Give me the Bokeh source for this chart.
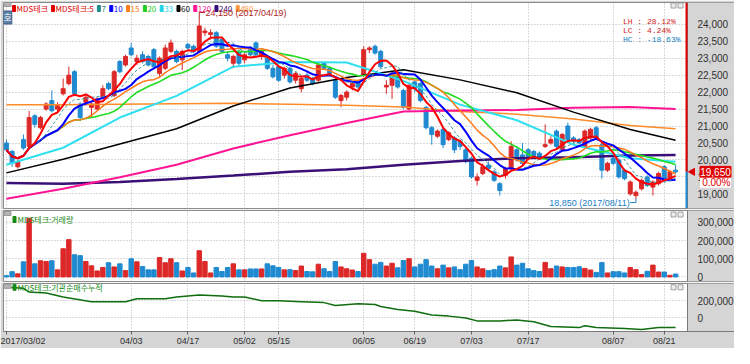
import pandas as pd
from bokeh.plotting import figure
from bokeh.layouts import column
from bokeh.models import FixedTicker, Label, Range1d, ColumnDataSource
from bokeh.core.properties import value
from bokeh.embed import file_html
from bokeh.resources import INLINE

# ------------------------------------------------------------------ data
holidays = ["2017-05-01", "2017-05-03", "2017-05-05", "2017-05-09", "2017-06-06", "2017-08-15"]
days = [d for d in pd.bdate_range("2017-03-02", "2017-08-23") if d.strftime("%Y-%m-%d") not in holidays]
day_str = [d.strftime("%Y-%m-%d") for d in days]

tick_dates = ["2017-03-02", "2017-04-03", "2017-04-17", "2017-05-02", "2017-05-15", "2017-06-05",
              "2017-06-19", "2017-07-03", "2017-07-17", "2017-08-07", "2017-08-21"]
tick_labels = ["2017/03/02", "04/03", "04/17", "05/02", "05/15", "06/05",
               "06/19", "07/03", "07/17", "08/07", "08/21"]

price_ticks = [19000, 19500, 20000, 20500, 21000, 21500, 22000, 22500, 23000, 23500, 24000]
volume_ticks = [0, 100000, 200000, 300000]
inst_ticks = [0, 200000]

opens = [20500, 20250, 19800, 20600, 20400, 21300, 20950, 21500, 21750, 21500,
         21950, 22250, 22600, 21650, 21700, 21550, 21500, 21850, 22250, 21900,
         22900, 22800, 23300, 22900, 23100, 23050, 23250, 22550, 22700, 23200,
         23200, 22950, 23400, 23350, 23200, 23750, 23700, 23750, 23550, 23100,
         22850, 23200, 22950, 23250, 23450, 23050, 23000, 22700, 22750, 22500,
         22700, 22350, 22100, 22500, 22400, 22350, 22850, 22700, 22350, 21750,
         21850, 22150, 22300, 22500, 23250, 23350, 23200, 22150, 22200, 22500,
         22050, 21500, 22300, 22250, 21550, 20950, 20700, 20900, 20600, 20650,
         20550, 20300, 20050, 19400, 19600, 19850, 19650, 19300, 19550, 19750,
         20300, 20150, 20300, 20250, 20200, 20400, 20500, 20850, 20300, 21000,
         20650, 20600, 20400, 20650, 20950, 20450, 19700, 20050, 20000, 19700,
         19000, 18950, 19150, 19500, 19200, 19300, 19800, 19450, 19700]
highs = [20600, 20300, 20000, 20750, 21450, 21350, 21300, 21700, 22050, 21700,
         22400, 22750, 22650, 21700, 21900, 21700, 21850, 22200, 22300, 22650,
         22950, 23100, 23450, 23100, 23200, 23100, 23300, 23050, 23400, 23550,
         23250, 23250, 23450, 23400, 24150, 23900, 23850, 23800, 23600, 23200,
         23100, 23250, 23150, 23350, 23500, 23250, 23050, 22800, 22800, 22750,
         22750, 22600, 22450, 22600, 22450, 22850, 22900, 22750, 22450, 21950,
         22050, 22300, 22350, 23350, 23350, 23400, 23250, 22350, 22600, 22550,
         22100, 22250, 22350, 22300, 21600, 21000, 20900, 20950, 20850, 20700,
         20600, 20350, 20100, 19600, 19900, 19950, 19700, 19350, 19800, 20550,
         20400, 20500, 20350, 20300, 20250, 21050, 20700, 20900, 20800, 21100,
         20700, 20650, 20900, 20950, 21000, 20500, 19950, 20100, 20050, 19750,
         19400, 19100, 19450, 19550, 19400, 19650, 19850, 19700, 19850]
lows = [20250, 19800, 19750, 20300, 20350, 20950, 20900, 21450, 21400, 21400,
        21900, 22200, 21900, 21150, 21600, 21250, 21450, 21800, 22050, 21850,
        22550, 22750, 23050, 22800, 22850, 22750, 22700, 22450, 22650, 23150,
        22850, 22650, 23250, 23150, 23150, 23650, 23550, 23300, 23150, 22900,
        22700, 22750, 22850, 23050, 23050, 22950, 22650, 22400, 22300, 22400,
        22250, 22250, 22000, 22300, 22200, 22300, 22650, 22500, 21800, 21550,
        21750, 22050, 22100, 22450, 23150, 23100, 22700, 21950, 21800, 22100,
        21500, 21450, 22000, 21700, 20900, 20450, 20650, 20350, 20550, 20200,
        20300, 19900, 19450, 19250, 19550, 19700, 19350, 18950, 19450, 19700,
        19950, 19800, 20050, 20050, 20000, 20350, 20450, 20350, 20250, 20550,
        20500, 20450, 20350, 20600, 20600, 19450, 19650, 19850, 19450, 19400,
        18950, 18850, 19100, 19200, 18950, 19250, 19350, 19400, 19600]
closes = [20300, 19900, 19950, 20350, 21250, 21050, 21250, 21650, 21450, 21600,
          22100, 22500, 21950, 21250, 21850, 21650, 21800, 22100, 22100, 22600,
          22600, 23050, 23100, 23000, 22900, 22800, 22750, 23000, 23300, 23450,
          22900, 23200, 23300, 23200, 23950, 23800, 23750, 23350, 23200, 23000,
          23050, 22850, 23100, 23100, 23100, 23200, 22700, 22450, 22350, 22700,
          22300, 22550, 22400, 22350, 22250, 22800, 22700, 22550, 21850, 21900,
          22000, 22250, 22150, 23250, 23300, 23150, 22750, 22200, 22550, 22150,
          21550, 22200, 22100, 21750, 20950, 20750, 20850, 20450, 20800, 20300,
          20400, 19950, 19500, 19500, 19800, 19750, 19400, 19100, 19750, 20400,
          20000, 19900, 20100, 20100, 20050, 20450, 20600, 20400, 20750, 20600,
          20550, 20500, 20850, 20900, 20650, 19700, 19900, 19900, 19500, 19450,
          19350, 19050, 19400, 19250, 19350, 19600, 19400, 19650, 19650]
volume = [7000, 29000, 17000, 83000, 322000, 72000, 89000, 85000, 89000, 39000,
          155000, 205000, 122000, 117000, 85000, 61000, 33000, 52000, 78000, 55000,
          72000, 35000, 100000, 83000, 57000, 39000, 39000, 107000, 78000, 100000,
          78000, 33000, 52000, 22000, 144000, 85000, 22000, 52000, 30000, 52000,
          72000, 39000, 39000, 44000, 44000, 44000, 72000, 61000, 52000, 39000,
          40000, 35000, 60000, 30000, 28000, 70000, 45000, 30000, 85000, 55000,
          45000, 38000, 30000, 130000, 95000, 70000, 80000, 60000, 75000, 50000,
          90000, 100000, 55000, 70000, 95000, 60000, 45000, 65000, 50000, 55000,
          40000, 70000, 90000, 55000, 45000, 35000, 40000, 60000, 50000, 110000,
          65000, 75000, 45000, 35000, 30000, 80000, 45000, 60000, 55000, 52000,
          52000, 56000, 47000, 38000, 25000, 79000, 22000, 29000, 29000, 22000,
          52000, 40000, 13000, 31000, 65000, 27000, 27000, 9000, 16000]

# long moving averages (their history starts before the window)
ma_idx = [0, 10, 20, 30, 40, 50, 60, 70, 80, 90, 100, 110, 118]
ma33 = [19860, 20360, 21250, 21890, 22750, 22890, 22870, 22330, 21630, 21170, 20450, 20050, 19950]
ma60 = [19620, 20020, 20470, 20920, 21590, 22120, 22430, 22660, 22360, 21980, 21410, 20900, 20580]
ma120 = [18860, 19150, 19490, 19860, 20340, 20730, 21090, 21430, 21460, 21470, 21540, 21560, 21500]
ma240 = [19320, 19300, 19350, 19440, 19540, 19650, 19730, 19860, 19970, 20050, 20080, 20130, 20150]
ma480 = [21630, 21630, 21645, 21660, 21670, 21640, 21610, 21560, 21430, 21350, 21205, 21015, 20920]

inst_idx = [0, 3, 4, 7, 10, 15, 21, 23, 28, 30, 34, 38, 40, 42, 45, 48, 52, 56, 58, 62,
            65, 66, 69, 72, 75, 78, 81, 83, 87, 90, 93, 96, 101, 102, 104, 109, 112, 115, 118]
inst_val = [358000, 347000, 302000, 290000, 245000, 189000, 189000, 223000, 223000, 245000,
            268000, 256000, 245000, 245000, 200000, 200000, 189000, 178000, 144000, 166000,
            155000, 132000, 98000, 76000, 31000, 19000, -3000, -37000, -37000, -26000,
            -48000, -104000, -116000, -94000, -116000, -127000, -138000, -116000, -116000]

leg_names = ["MDS테크", "MDS테크:5", "7", "10", "15", "20", "33", "60", "120", "240", "480"]
leg_colors = ["#e00000", "#e00000", "#1f8c8c", "#0000ff", "#ff7a1a", "#22cc22",
              "#22d4e6", "#000000", "#ff1493", "#3a1078", "#ff9a40"]

# ------------------------------------------------------------------ styling / geometry
RED = "#dc2828"
BLUE = "#1f8ad0"
GREY = "#d5d5d5"
FONT_NUM = "Liberation Sans"
FONT_KR = "Noto Sans CJK KR"
W = 734
LB = 3
PW = 684            # width of the chart part of each frame
AW = W - LB - PW    # grey value-scale strip on the right
idx = list(range(len(days)))
tick_idx = [day_str.index(d) for d in tick_dates]

X0, XP = -0.52, 120.1
DX = (XP - X0) / PW
XR = Range1d(X0, XP + AW * DX)


def px_x(px):
    return X0 + (px - LB) * DX


def make_fig(h, yr, top, bottom, show_x=False):
    p = figure(width=W, height=h, x_range=XR, y_range=yr, output_backend="svg",
               toolbar_location=None, y_axis_location=None,
               x_axis_location="below" if show_x else None,
               min_border_left=LB, min_border_right=0,
               min_border_top=top, min_border_bottom=bottom)
    p.background_fill_color = "white"
    p.border_fill_color = GREY
    p.outline_line_color = "#8c8c8c"
    p.xgrid.ticker = FixedTicker(ticks=tick_idx)
    for g in (p.xgrid, p.ygrid):
        g.grid_line_color = "#b4b4b4"
        g.grid_line_dash = "1 2"
    return p


def value_strip(p, yr, ticks):
    p.ygrid.ticker = FixedTicker(ticks=ticks)
    p.quad(left=[XP], right=[XR.end], bottom=[yr.start], top=[yr.end],
           fill_color=GREY, line_color=None)
    p.segment(x0=[XP], y0=[yr.start], x1=[XP], y1=[yr.end], color="#7a7a7a", line_width=1)
    p.text(x=[XP + 10 * DX] * len(ticks), y=ticks, text=[f"{t:,}" for t in ticks],
           text_font=value(FONT_NUM), text_font_size="10px", text_color="#303030",
           text_baseline="middle")


def pane_icons(p, py_fn):
    p.rect(x=[px_x(7)], y=[py_fn(4)], width=7, height=4, width_units="screen",
           height_units="screen", fill_color="#b4b4b4", line_color="#9a9a9a")
    for off in (14, 7):
        p.rect(x=[px_x(LB + PW - off)], y=[py_fn(5)], width=5, height=5, width_units="screen",
               height_units="screen", fill_color="#ececec", line_color="#a0a0a0")


inc = [c >= o for o, c in zip(opens, closes)]
cols = [RED if u else BLUE for u in inc]
src = ColumnDataSource(dict(x=idx, o=opens, h=highs, l=lows, c=closes,
                            top=[max(a, b) for a, b in zip(opens, closes)],
                            bot=[min(a, b) for a, b in zip(opens, closes)],
                            col=cols, vol=volume))

# ------------------------------------------------------------------ price pane
H1, T1, B1 = 209, 2, 1
F1 = H1 - T1 - B1
YR1 = Range1d(18570, 24640)
DV1 = (YR1.end - YR1.start) / F1


def py1(py):
    return YR1.end - (py - T1) * DV1


p1 = make_fig(H1, YR1, T1, B1)

p1.segment("x", "h", "x", "l", source=src, color="col", line_width=1)
p1.vbar(x="x", width=0.7, top="top", bottom="bot", fill_color="col", line_color="col", source=src)

cs = pd.Series(closes)
long_ma = [(ma480, "#ff8c28", 1.5), (ma240, "#3a1078", 2.5), (ma120, "#ff1493", 2),
           (ma60, "#000000", 1.5), (ma33, "#2ee0f0", 2)]
for vals, c, w in long_ma:
    p1.line(ma_idx, vals, color=c, line_width=w)
short_ma = [(20, "#22dd22", 1.6, "solid"), (15, "#ff7a1a", 1.5, "solid"),
            (10, "#0000ff", 2, "solid"), (7, "#3c9c9c", 1, "3 2"), (5, "#ff0000", 2, "solid")]
for n, c, w, d in short_ma:
    p1.line(idx, list(cs.rolling(n, min_periods=1).mean()), color=c, line_width=w, line_dash=d)

value_strip(p1, YR1, price_ticks)

# current price marker at the right edge of the chart part
C = closes[-1]
xe = XP - 1.0 * DX
p1.segment(x0=[xe], y0=[C], x1=[xe], y1=[YR1.end], color="#e00000", line_width=2)
p1.segment(x0=[xe], y0=[YR1.start], x1=[xe], y1=[C], color=BLUE, line_width=2)

chg = (closes[-1] / closes[-2] - 1) * 100
p1.scatter(x=[XP + 5 * DX], y=[C], marker="triangle", size=7, angle=1.5708,
           fill_color="#e00000", line_color="#e00000")
p1.rect(x=[XP + 28 * DX], y=[C], width=31, height=11, width_units="screen",
        height_units="screen", fill_color="#e00000", line_color="#e00000")
p1.text(x=[XP + 28 * DX], y=[C], text=[f"{C:,}"], text_font=value(FONT_NUM), text_font_size="10px",
        text_color="white", text_align="center", text_baseline="middle")
p1.rect(x=[XP + 28 * DX], y=[C - 11 * DV1], width=31, height=10, width_units="screen",
        height_units="screen", fill_color="white", line_color=None)
p1.text(x=[XP + 43 * DX], y=[C - 11 * DV1], text=[f"{chg:.2f}%"], text_font=value(FONT_NUM),
        text_font_size="10px", text_color="#e00000", text_align="right", text_baseline="middle")


# legend row
def text_w(s, fs):
    w = 0.0
    for ch in s:
        if ord(ch) > 0x2E80:
            w += fs * 0.95
        elif ch.isupper():
            w += fs * 0.66
        elif ch == ":":
            w += fs * 0.3
        else:
            w += fs * 0.55
    return w


xp = 12
for name, c in zip(leg_names, leg_colors):
    p1.rect(x=[px_x(xp + 1.5)], y=[py1(8)], width=3, height=6, width_units="screen",
            height_units="screen", fill_color=c, line_color=c)
    p1.add_layout(Label(x=px_x(xp + 4), y=py1(8), text=name, text_color=c, text_font=FONT_KR,
                        text_font_size="8px", text_baseline="middle"))
    xp += 4 + text_w(name, 8) + 4

pane_icons(p1, py1)

p1.add_layout(Label(x=px_x(3), y=py1(17), text="호", text_color="white", text_font=FONT_KR,
                    text_font_size="9px", text_baseline="middle", background_fill_color="#5c7fa6",
                    border_line_color="#3e5f85"))

# high / low annotations
hi_i = max(idx, key=lambda i: highs[i])
lo_i = min(idx, key=lambda i: lows[i])
Hh, Ll = highs[hi_i], lows[lo_i]
y_hi_lab = py1(12)
p1.line([hi_i, hi_i, hi_i + 1.0], [Hh, y_hi_lab, y_hi_lab], color="#b01e1e", line_width=1)
p1.add_layout(Label(x=hi_i + 1.1, y=y_hi_lab, text=f"{Hh:,} ({days[hi_i]:%Y/%m/%d})",
                    text_color="#b01e1e", text_font=FONT_NUM, text_font_size="9px",
                    text_baseline="middle"))
y_lo_lab = py1(F1 - 4)
p1.line([lo_i - 1.0, lo_i, lo_i], [y_lo_lab, y_lo_lab, Ll], color="#2080c8", line_width=1)
p1.add_layout(Label(x=lo_i - 1.1, y=y_lo_lab, text=f"{Ll:,} ({days[lo_i]:%Y/%m/%d})",
                    text_color="#2080c8", text_font=FONT_NUM, text_font_size="9px",
                    text_baseline="middle", text_align="right"))

LH = (Hh / Ll - 1) * 100
LC = (C / Ll - 1) * 100
HC = (C / Hh - 1) * 100
for k, (txt, c) in enumerate([(f"LH : {LH:6.2f}%", "#d02020"), (f"LC : {LC:6.2f}%", "#d02020"),
                              (f"HC : {HC:6.2f}%", "#2080c0")]):
    p1.add_layout(Label(x=XP - 7 * DX, y=py1(21 + 9 * k), text=txt, text_color=c,
                        text_font="Liberation Mono", text_font_size="8px",
                        text_baseline="middle", text_align="right"))

# ------------------------------------------------------------------ volume pane
H2, T2, B2 = 73, 1, 1
F2 = H2 - T2 - B2
YR2 = Range1d(-25000, 365000)
DV2 = (YR2.end - YR2.start) / F2


def py2(py):
    return YR2.end - (py - T2) * DV2


p2 = make_fig(H2, YR2, T2, B2)
p2.vbar(x="x", top="vol", bottom=0, width=0.78, fill_color="col", line_color="col", source=src)
value_strip(p2, YR2, volume_ticks)
p2.rect(x=[px_x(14)], y=[py2(10)], width=3, height=6, width_units="screen", height_units="screen",
        fill_color="#178a17", line_color="#178a17")
p2.add_layout(Label(x=px_x(17), y=py2(10), text="MDS테크:거래량", text_color="#178a17",
                    text_font=FONT_KR, text_font_size="8px", text_baseline="middle"))
pane_icons(p2, py2)

# ------------------------------------------------------------------ institution pane
H3, T3 = 66, 1
F3 = 51
YR3 = Range1d(-162000, 403000)
DV3 = (YR3.end - YR3.start) / F3


def py3(py):
    return YR3.end - (py - T3) * DV3


p3 = make_fig(H3, YR3, T3, 0, show_x=True)
p3.line(inst_idx, inst_val, color="#0f6e0f", line_width=1.5)
value_strip(p3, YR3, inst_ticks)
p3.rect(x=[px_x(14)], y=[py3(5)], width=3, height=6, width_units="screen", height_units="screen",
        fill_color="#178a17", line_color="#178a17")
p3.add_layout(Label(x=px_x(17), y=py3(5), text="MDS테크:기관순매수누적", text_color="#178a17",
                    text_font=FONT_KR, text_font_size="8px", text_baseline="middle"))
pane_icons(p3, py3)

xa = p3.xaxis[0]
xa.ticker = FixedTicker(ticks=tick_idx)
xa.major_label_overrides = {i: lab for i, lab in zip(tick_idx, tick_labels)}
xa.major_label_text_align = "left"
xa.major_tick_out = 3
xa.major_tick_in = 0
xa.major_tick_line_color = "#606060"
xa.minor_tick_line_color = None
xa.major_label_standoff = 1
xa.axis_line_color = "#7a7a7a"
xa.major_label_text_font = FONT_NUM
xa.major_label_text_font_size = "9px"
xa.major_label_text_color = "#303030"

layout = column(p1, p2, p3, spacing=0)
open("out.html", "w").write(file_html(layout, INLINE, title="MDS테크"))
